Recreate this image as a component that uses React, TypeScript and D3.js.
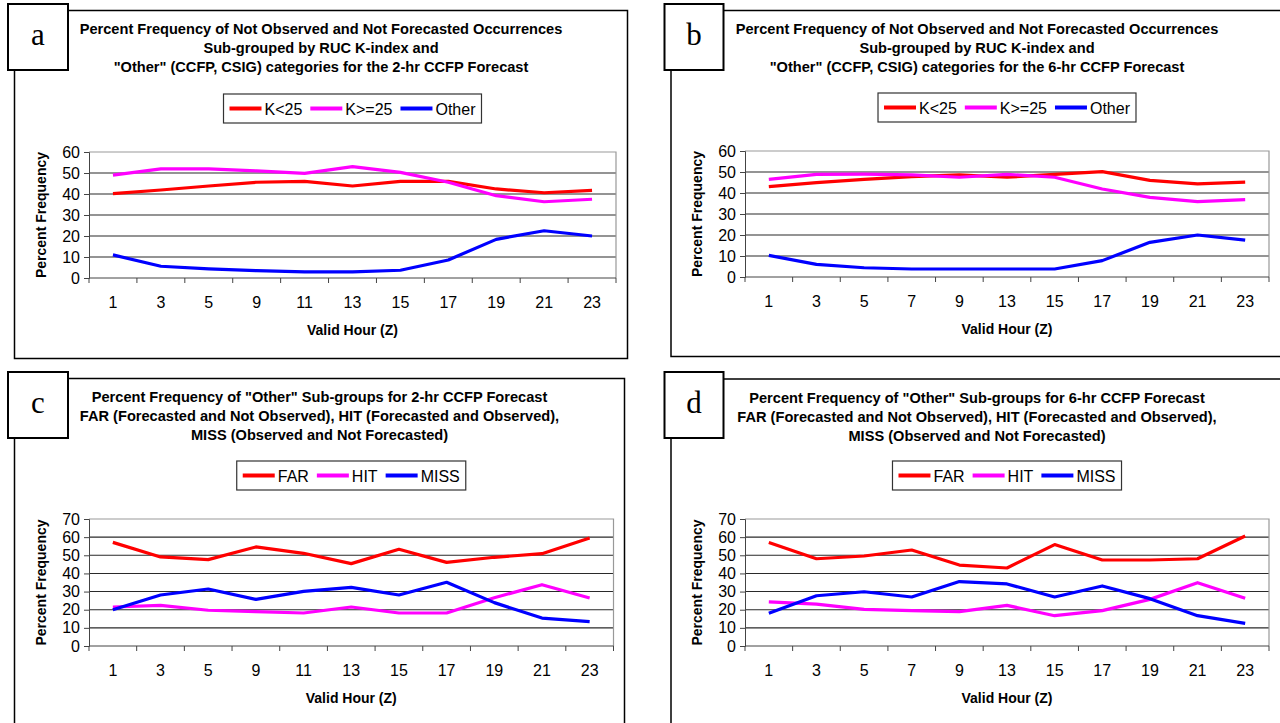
import React, { useEffect, useRef } from 'react';
import * as d3 from 'd3';

// valid hours (Z) on the x axis
const hours2 = ['1', '3', '5', '9', '11', '13', '15', '17', '19', '21', '23'];
const hours6 = ['1', '3', '5', '7', '9', '13', '15', '17', '19', '21', '23'];

// panel a: 2-hr forecast, K-index sub-groups
const kLow2 = [40.2, 41.9, 43.8, 45.6, 46.0, 43.8, 46.0, 46.0, 42.4, 40.6, 41.7];
const kHigh2 = [49.0, 52.0, 52.0, 51.0, 49.8, 53.0, 50.3, 45.6, 39.2, 36.3, 37.5];
const other2 = [11.0, 5.6, 4.3, 3.5, 2.9, 2.9, 3.7, 8.6, 18.4, 22.5, 20.0];

// panel b: 6-hr forecast, K-index sub-groups
const kLow6 = [43.0, 44.9, 46.5, 47.8, 48.6, 47.5, 48.9, 50.2, 46.0, 44.3, 45.2];
const kHigh6 = [46.5, 48.9, 49.0, 48.6, 47.5, 48.9, 47.5, 41.9, 37.9, 35.9, 36.8];
const other6 = [10.3, 6.0, 4.4, 3.8, 3.8, 3.8, 3.8, 7.8, 16.5, 20.0, 17.6];

// panel c: 2-hr forecast, "Other" sub-groups
const far2 = [57.1, 49.1, 47.6, 54.6, 51.1, 45.4, 53.3, 46.1, 48.9, 50.9, 59.5];
const hit2 = [21.5, 22.4, 19.7, 18.9, 18.2, 21.5, 18.2, 18.2, 26.6, 33.8, 26.5];
const miss2 = [20.0, 28.1, 31.4, 25.7, 30.1, 32.3, 28.1, 35.1, 23.9, 15.4, 13.4];

// panel d: 6-hr forecast, "Other" sub-groups
const far6 = [57.1, 48.1, 49.6, 52.9, 44.6, 43.0, 55.9, 47.4, 47.4, 48.1, 60.6];
const hit6 = [24.3, 23.1, 20.2, 19.5, 18.9, 22.4, 16.7, 19.5, 25.7, 34.9, 26.3];
const miss6 = [18.0, 27.7, 29.9, 27.0, 35.5, 34.2, 27.0, 33.1, 26.1, 16.7, 12.5];

const kNames = ['K<25', 'K>=25', 'Other'];
const otherNames = ['FAR', 'HIT', 'MISS'];
const seriesColors = ['#ff0000', '#ff00ff', '#0000ff'];

const titleA = [
  'Percent Frequency of Not Observed and Not Forecasted Occurrences',
  'Sub-grouped by RUC K-index and',
  '"Other" (CCFP, CSIG) categories for the 2-hr CCFP Forecast',
];
const titleB = [
  'Percent Frequency of Not Observed and Not Forecasted Occurrences',
  'Sub-grouped by RUC K-index and',
  '"Other" (CCFP, CSIG) categories for the 6-hr CCFP Forecast',
];
const titleC = [
  'Percent Frequency of "Other" Sub-groups for 2-hr CCFP Forecast',
  'FAR (Forecasted and Not Observed), HIT (Forecasted and Observed),',
  'MISS (Observed and Not Forecasted)',
];
const titleD = [
  'Percent Frequency of "Other" Sub-groups for 6-hr CCFP Forecast',
  'FAR (Forecasted and Not Observed), HIT (Forecasted and Observed),',
  'MISS (Observed and Not Forecasted)',
];

const FONT = '"Liberation Sans", Arial, Helvetica, sans-serif';

const panels = [
  {
    letter: 'a', hours: hours2, names: kNames, series: [kLow2, kHigh2, other2], title: titleA, yMax: 60,
    frame: { x: 14.5, y: 10.5, w: 613, h: 348 }, box: { x: 8, y: 4, w: 60, h: 66 },
    plot: { left: 89, right: 616, top: 152, bottom: 278 }, legendY: 94,
  },
  {
    letter: 'b', hours: hours6, names: kNames, series: [kLow6, kHigh6, other6], title: titleB, yMax: 60,
    frame: { x: 671, y: 10.5, w: 612, h: 346 }, box: { x: 664.5, y: 4, w: 59, h: 66 },
    plot: { left: 745, right: 1269, top: 151, bottom: 277 }, legendY: 93,
  },
  {
    letter: 'c', hours: hours2, names: otherNames, series: [far2, hit2, miss2], title: titleC, yMax: 70,
    frame: { x: 14.5, y: 378.5, w: 610, h: 360 }, box: { x: 8, y: 372, w: 60, h: 66 },
    plot: { left: 89, right: 613.5, top: 519, bottom: 646 }, legendY: 461,
  },
  {
    letter: 'd', hours: hours6, names: otherNames, series: [far6, hit6, miss6], title: titleD, yMax: 70,
    frame: { x: 671, y: 379, w: 612, h: 360 }, box: { x: 664.5, y: 372, w: 59, h: 66 },
    plot: { left: 745, right: 1269, top: 519, bottom: 646 }, legendY: 461,
  },
];

function App() {
  const ref = useRef<SVGSVGElement>(null);

  useEffect(() => {
    const svg = d3.select(ref.current);
    svg.selectAll('*').remove();

    panels.forEach(p => {
      const g = svg.append('g');
      const { left, right, top, bottom } = p.plot;
      const cx = p.frame.x + p.frame.w / 2;
      const plotMid = (left + right) / 2;

      // outer frame
      g.append('rect')
        .attr('x', p.frame.x).attr('y', p.frame.y)
        .attr('width', p.frame.w).attr('height', p.frame.h)
        .attr('fill', '#fff').attr('stroke', '#000').attr('stroke-width', 1.5);

      // title
      p.title.forEach((line, i) => {
        g.append('text')
          .attr('x', cx).attr('y', p.frame.y + 23.5 + i * 19.2)
          .attr('text-anchor', 'middle')
          .style('font-family', FONT).style('font-size', '14.6px').style('font-weight', 'bold')
          .text(line);
      });

      const x = d3.scaleBand().domain(p.hours).range([left, right]);
      const y = d3.scaleLinear().domain([0, p.yMax]).range([bottom, top]);
      const yTicks = d3.range(0, p.yMax + 1, 10);

      // gridlines
      g.selectAll('.grid')
        .data(yTicks.filter(t => t > 0 && t < p.yMax))
        .join('line')
        .attr('x1', left).attr('x2', right)
        .attr('y1', d => y(d)).attr('y2', d => y(d))
        .attr('stroke', '#2a2a2a').attr('stroke-width', 1.1);

      // plot border (top, right)
      g.append('path')
        .attr('d', `M${left},${y(p.yMax)}H${right}V${bottom}`)
        .attr('fill', 'none').attr('stroke', '#999').attr('stroke-width', 1.2);

      // y axis
      const yAxis = g.append('g')
        .attr('transform', `translate(${left},0)`)
        .call(d3.axisLeft(y).tickValues(yTicks).tickSize(5).tickPadding(4).tickFormat(d3.format('d')));
      yAxis.select('.domain').attr('stroke', '#444');
      yAxis.selectAll('.tick line').attr('stroke', '#444');
      yAxis.selectAll('text')
        .style('font-family', FONT).style('font-size', '16px').attr('fill', '#000');

      // x axis: ticks at band edges, labels at band centres
      g.append('line')
        .attr('x1', left).attr('x2', right).attr('y1', bottom).attr('y2', bottom)
        .attr('stroke', '#444').attr('stroke-width', 1);
      const edges = p.hours.map(h => x(h) as number).concat([right]);
      g.selectAll('.xtick')
        .data(edges)
        .join('line')
        .attr('x1', d => d).attr('x2', d => d)
        .attr('y1', bottom).attr('y2', bottom + 5)
        .attr('stroke', '#444');
      g.selectAll('.xlab')
        .data(p.hours)
        .join('text')
        .attr('x', d => (x(d) as number) + x.bandwidth() / 2)
        .attr('y', bottom + 30)
        .attr('text-anchor', 'middle')
        .style('font-family', FONT).style('font-size', '16px')
        .text(d => d);

      // axis titles
      g.append('text')
        .attr('x', plotMid).attr('y', bottom + 57)
        .attr('text-anchor', 'middle')
        .style('font-family', FONT).style('font-size', '14px').style('font-weight', 'bold')
        .text('Valid Hour (Z)');
      const ytX = left - 43;
      const ytY = (top + bottom) / 2;
      g.append('text')
        .attr('transform', `translate(${ytX},${ytY}) rotate(-90)`)
        .attr('text-anchor', 'middle')
        .style('font-family', FONT).style('font-size', '14px').style('font-weight', 'bold')
        .text('Percent Frequency');

      // series lines
      const line = d3.line<number>()
        .x((_, i) => (x(p.hours[i]) as number) + x.bandwidth() / 2)
        .y(d => y(d));
      p.series.forEach((vals, i) => {
        g.append('path')
          .attr('d', line(vals))
          .attr('fill', 'none')
          .attr('stroke', seriesColors[i])
          .attr('stroke-width', 3.2)
          .attr('stroke-linejoin', 'round');
      });

      // legend
      const lg = g.append('g');
      const pad = 6, seg = 32, gap = 3, spacing = 8;
      let cursor = pad;
      const boxH = 29;
      p.names.forEach((name, i) => {
        const t = lg.append('text')
          .attr('y', boxH / 2 + 6)
          .style('font-family', FONT).style('font-size', '16px')
          .text(name);
        const w = (t.node() as SVGTextElement).getComputedTextLength();
        lg.append('line')
          .attr('x1', cursor).attr('x2', cursor + seg)
          .attr('y1', boxH / 2).attr('y2', boxH / 2)
          .attr('stroke', seriesColors[i]).attr('stroke-width', 4);
        t.attr('x', cursor + seg + gap);
        cursor += seg + gap + w + (i < p.names.length - 1 ? spacing : pad);
      });
      const boxW = cursor;
      lg.insert('rect', ':first-child')
        .attr('x', 0).attr('y', 0).attr('width', boxW).attr('height', boxH)
        .attr('fill', '#fff').attr('stroke', '#333').attr('stroke-width', 1.2);
      lg.attr('transform', `translate(${plotMid - boxW / 2},${p.legendY})`);

      // panel letter box
      g.append('rect')
        .attr('x', p.box.x).attr('y', p.box.y).attr('width', p.box.w).attr('height', p.box.h)
        .attr('fill', '#fff').attr('stroke', '#000').attr('stroke-width', 2);
      g.append('text')
        .attr('x', p.box.x + p.box.w / 2).attr('y', p.box.y + 41)
        .attr('text-anchor', 'middle')
        .style('font-family', '"Liberation Serif", "Times New Roman", serif').style('font-size', '31px')
        .text(p.letter);
    });
  }, []);

  return (
    <svg
      ref={ref}
      width={1280}
      height={723}
      style={{ position: 'absolute', left: 0, top: 0, background: '#fff' }}
    />
  );
}

export default App;
